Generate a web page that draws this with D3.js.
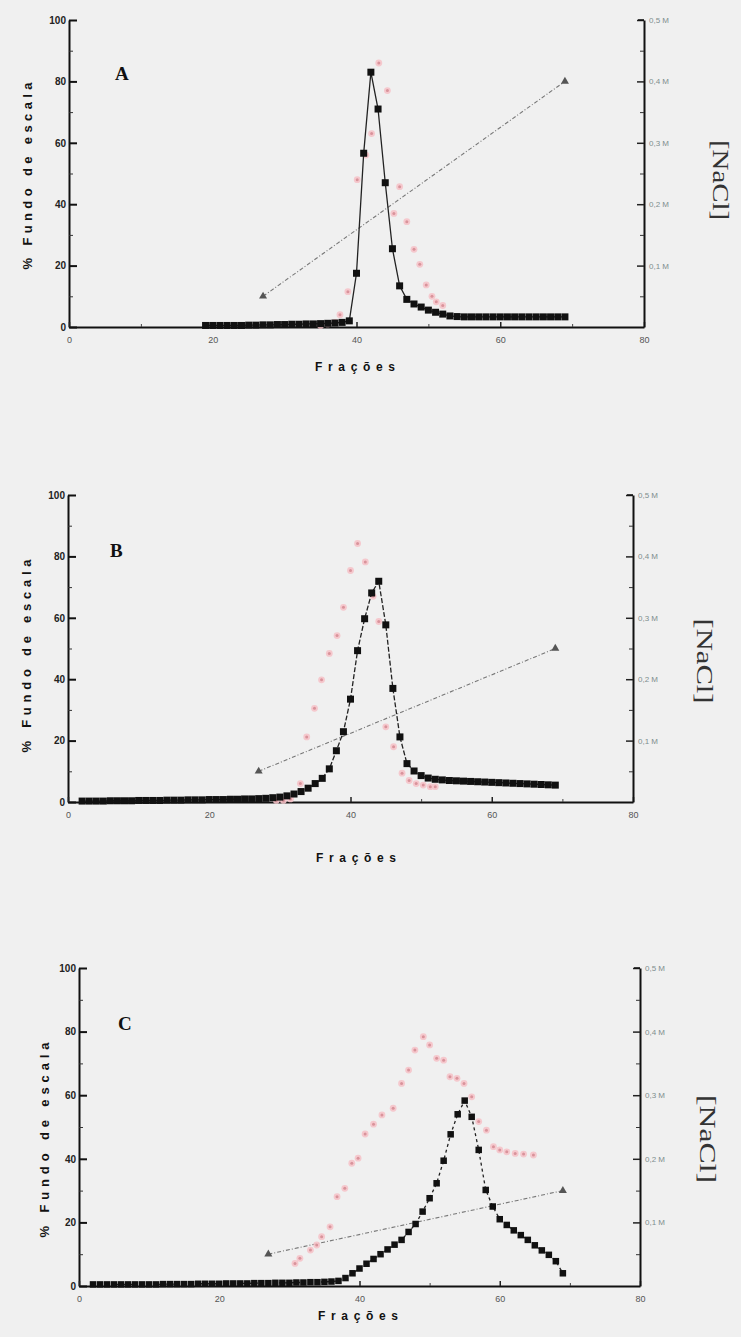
<!DOCTYPE html>
<html><head><meta charset="utf-8">
<script src="https://cdn.jsdelivr.net/npm/d3@7"></script>
<style>html,body{margin:0;padding:0;background:#f0f0f0;} svg{display:block}</style>
</head><body><svg id="c" width="741" height="1337"></svg>
<script>
// ---------- shared axis data ----------
const xTicks = [0, 20, 40, 60, 80];
const xMinorTicks = [10, 30, 50, 70];
const yTicks = [0, 20, 40, 60, 80, 100];
const yMinorTicks = [10, 30, 50, 70, 90];
const naclTicks = [0.1, 0.2, 0.3, 0.4, 0.5];
const naclMinorTicks = [0.05, 0.15, 0.25, 0.35, 0.45];
const naclTickLabels = ["0,1 M", "0,2 M", "0,3 M", "0,4 M", "0,5 M"];
const yAxisTitle = "% Fundo de escala";
const xAxisTitle = "Frações";
const naclTitle = "[NaCl]";
const panelLetters = ["A", "B", "C"];

// ---------- Panel A ----------
const fracA = [19,20,21,22,23,24,25,26,27,28,29,30,31,32,33,34,35,36,37,38,39,40,41,42,43,44,45,46,47,48,49,50,51,52,53,54,55,56,57,58,59,60,61,62,63,64,65,66,67,68,69];
const absA  = [0.5,0.5,0.5,0.5,0.5,0.5,0.6,0.6,0.7,0.7,0.8,0.8,0.9,0.9,1,1,1.1,1.2,1.3,1.5,2,17.5,56.6,83,71,47,25.5,13.4,9,7.5,6.5,5.5,4.8,4.2,3.6,3.4,3.3,3.3,3.3,3.3,3.3,3.3,3.3,3.3,3.3,3.3,3.3,3.3,3.3,3.3,3.3];
const pinkFracA = [35,36,37,37.7,38.8,40.1,41.3,42.1,43.1,44.3,45.2,46,47,48,48.8,49.7,50.5,51.1,52];
const pinkA     = [0.5,1,1.5,4,11.5,48,56,63,86,77,37,45.7,34.3,25.3,20.4,13.7,10,8.2,7];
const naclFracA = [27, 69];
const naclA     = [0.05, 0.40];

// ---------- Panel B ----------
const fracB = [2,3,4,5,6,7,8,9,10,11,12,13,14,15,16,17,18,19,20,21,22,23,24,25,26,27,28,29,30,31,32,33,34,35,36,37,38,39,40,41,42,43,44,45,46,47,48,49,50,51,52,53,54,55,56,57,58,59,60,61,62,63,64,65,66,67,68,69];
const absB  = [0.3,0.3,0.3,0.3,0.4,0.4,0.4,0.4,0.5,0.5,0.5,0.5,0.6,0.6,0.6,0.7,0.7,0.7,0.8,0.8,0.8,0.9,0.9,1,1,1.1,1.2,1.4,1.6,2,2.6,3.4,4.5,6,7.7,10.8,16.7,22.9,33.5,49.3,59.7,68.1,71.9,57.7,37,21.2,12.5,10.1,8.6,7.8,7.4,7.2,7,6.9,6.8,6.7,6.6,6.5,6.4,6.3,6.2,6.1,6,5.9,5.8,5.7,5.6,5.5];
const pinkFracB = [29.5,30.5,31.5,32.9,33.8,34.9,35.9,37,38.1,39,40,41,42.1,43.2,44,45,46.1,47.3,48.3,49.3,50.3,51.3,52];
const pinkB     = [0.5,0.5,1,6,21.2,30.5,39.8,48.4,54.2,63.4,75.4,84.2,78.2,67,58.8,24.5,18,9.4,7,6,5.5,5,5];
const naclFracB = [27, 69];
const naclB     = [0.05, 0.25];

// ---------- Panel C ----------
const fracC = [2,3,4,5,6,7,8,9,10,11,12,13,14,15,16,17,18,19,20,21,22,23,24,25,26,27,28,29,30,31,32,33,34,35,36,37,38,39,40,41,42,43,44,45,46,47,48,49,50,51,52,53,54,55,56,57,58,59,60,61,62,63,64,65,66,67,68,69];
const absC  = [0.5,0.5,0.5,0.5,0.5,0.5,0.5,0.5,0.5,0.5,0.6,0.6,0.6,0.6,0.6,0.7,0.7,0.7,0.7,0.8,0.8,0.8,0.8,0.9,0.9,0.9,1,1,1,1.1,1.1,1.2,1.2,1.3,1.4,1.6,2.5,4,5.5,7,8.5,10,11.5,13,14.5,17,19.5,23.4,27.6,32.3,39.4,47.7,54,58.3,53.2,42.8,30.2,25,21,19.2,17.5,16,14.5,12.8,11.2,9.8,7.8,4];
const pinkFracC = [30.8,31.5,33,33.9,34.6,35.8,36.8,37.9,38.9,39.8,40.8,42,43.2,44.8,46,47,47.9,49.1,50,51,52,52.9,53.9,54.9,56,57,58.1,59.1,60,61,62.2,63.4,64.8];
const pinkC     = [7.1,8.7,11.3,12.9,15.5,18.6,28.1,30.7,38.6,40.2,47.8,50.9,53.8,55.9,63.7,67.9,74.2,78.4,75.8,71.6,71,65.8,65.3,63.7,59.5,51.7,49,43.8,42.8,42.2,41.7,41.5,41.2];
const naclFracC = [27, 69];
const naclC     = [0.05, 0.15];

// ---------- layout ----------
const panels = [
  {letter: panelLetters[0], fr: fracA, ab: absA, pf: pinkFracA, pv: pinkA, nf: naclFracA, nv: naclA,
   g: {x0: 69, x1: 644, y0: 327, y1: 20}, dash: null, sq: 7,
   letterPos: [115, 80], yT: [32, 176, 187], xT: [355, 371, 80], nT: [713, 180, 80]},
  {letter: panelLetters[1], fr: fracB, ab: absB, pf: pinkFracB, pv: pinkB, nf: naclFracB, nv: naclB,
   g: {x0: 68, x1: 633, y0: 802, y1: 495}, dash: "5,2", sq: 7,
   letterPos: [110, 557], yT: [31, 656, 193], xT: [356, 862, 80], nT: [697, 661, 85]},
  {letter: panelLetters[2], fr: fracC, ab: absC, pf: pinkFracC, pv: pinkC, nf: naclFracC, nv: naclC,
   g: {x0: 79, x1: 640, y0: 1286, y1: 968}, dash: "3,3", sq: 6.5,
   letterPos: [118, 1030], yT: [49, 1140, 195], xT: [358, 1320, 80], nT: [700, 1139, 88]}
];

const svg = d3.select("#c");
svg.append("rect").attr("width", 741).attr("height", 1337).attr("fill", "#f0f0f0");

panels.forEach(P => {
  const G = P.g;
  const x = d3.scaleLinear().domain([0, 80]).range([G.x0, G.x1]);
  const y = d3.scaleLinear().domain([0, 100]).range([G.y0, G.y1]);
  const yr = d3.scaleLinear().domain([0, 0.5]).range([G.y0, G.y1]);
  const g = svg.append("g");

  // left axis
  const la = g.append("g").attr("transform", `translate(${G.x0},0)`)
    .call(d3.axisLeft(y).tickValues(yTicks).tickSizeInner(-8).tickSizeOuter(0).tickPadding(3).tickFormat(d3.format("d")));
  la.select(".domain").attr("stroke", "#111").attr("stroke-width", 2);
  la.selectAll(".tick line").attr("stroke", "#111").attr("stroke-width", 2);
  la.selectAll("text").attr("font-family", "Arial, Liberation Sans, sans-serif").attr("font-weight", "bold").attr("font-size", 10).attr("fill", "#222");
  g.append("g").attr("transform", `translate(${G.x0},0)`)
    .call(d3.axisLeft(y).tickValues(yMinorTicks).tickSizeInner(-4).tickSizeOuter(0).tickFormat(""))
    .call(s => { s.select(".domain").remove(); s.selectAll("line").attr("stroke", "#333"); });

  // bottom axis
  const ba = g.append("g").attr("transform", `translate(0,${G.y0})`)
    .call(d3.axisBottom(x).tickValues(xTicks).tickSizeInner(-5).tickSizeOuter(0).tickPadding(10).tickFormat(d3.format("d")));
  ba.select(".domain").attr("stroke", "#111").attr("stroke-width", 2);
  ba.selectAll(".tick line").attr("stroke", "#222").attr("stroke-width", 1.5);
  ba.selectAll("text").attr("font-family", "Arial, Liberation Sans, sans-serif").attr("font-size", 9).attr("fill", "#555");
  g.append("g").attr("transform", `translate(0,${G.y0})`)
    .call(d3.axisBottom(x).tickValues(xMinorTicks).tickSizeInner(-3).tickSizeOuter(0).tickFormat(""))
    .call(s => { s.select(".domain").remove(); s.selectAll("line").attr("stroke", "#444"); });

  // right axis
  const ra = g.append("g").attr("transform", `translate(${G.x1},0)`)
    .call(d3.axisRight(yr).tickValues(naclTicks).tickSizeInner(-7).tickSizeOuter(0).tickPadding(5)
      .tickFormat((d, i) => naclTickLabels[i]));
  ra.select(".domain").attr("stroke", "#111").attr("stroke-width", 2);
  ra.selectAll(".tick line").attr("stroke", "#222").attr("stroke-width", 1.5);
  ra.selectAll("text").attr("font-family", "Arial, Liberation Sans, sans-serif").attr("font-size", 8).attr("fill", "#7e8e8e");
  g.append("g").attr("transform", `translate(${G.x1},0)`)
    .call(d3.axisRight(yr).tickValues(naclMinorTicks).tickSizeInner(-4).tickSizeOuter(0).tickFormat(""))
    .call(s => { s.select(".domain").remove(); s.selectAll("line").attr("stroke", "#333"); });
  // top tick on right axis
  g.append("line").attr("x1", G.x1 - 6).attr("x2", G.x1).attr("y1", yr(0.5)).attr("y2", yr(0.5)).attr("stroke", "#111").attr("stroke-width", 1.5);

  // titles
  g.append("text").attr("transform", `translate(${P.yT[0]},${P.yT[1]}) rotate(-90)`)
    .attr("text-anchor", "middle").attr("font-family", "Arial, Liberation Sans, sans-serif")
    .attr("font-weight", "bold").attr("font-size", 13).attr("fill", "#111")
    .attr("textLength", P.yT[2]).attr("lengthAdjust", "spacing").text(yAxisTitle);
  g.append("text").attr("x", P.xT[0]).attr("y", P.xT[1])
    .attr("text-anchor", "middle").attr("font-family", "Arial, Liberation Sans, sans-serif")
    .attr("font-weight", "bold").attr("font-size", 12).attr("fill", "#111")
    .attr("textLength", P.xT[2]).attr("lengthAdjust", "spacing").text(xAxisTitle);
  g.append("text").attr("transform", `translate(${P.nT[0]},${P.nT[1]}) rotate(90)`)
    .attr("text-anchor", "middle").attr("font-family", "Liberation Serif, Times New Roman, serif")
    .attr("font-size", 23).attr("fill", "#333")
    .attr("textLength", P.nT[2]).attr("lengthAdjust", "spacingAndGlyphs").text(naclTitle);
  g.append("text").attr("x", P.letterPos[0]).attr("y", P.letterPos[1])
    .attr("font-family", "Liberation Serif, Times New Roman, serif").attr("font-weight", "bold")
    .attr("font-size", 19).attr("fill", "#111").text(P.letter);

  // NaCl gradient line
  const nd = P.nf.map((f, i) => ({f, c: P.nv[i]}));
  g.append("path").datum(nd)
    .attr("d", d3.line().x(d => x(d.f)).y(d => yr(d.c)))
    .attr("fill", "none").attr("stroke", "#777").attr("stroke-width", 1.1).attr("stroke-dasharray", "4,2,1,2");
  g.selectAll(".tri").data(nd).join("path")
    .attr("transform", d => `translate(${x(d.f)},${yr(d.c)})`)
    .attr("d", d3.symbol(d3.symbolTriangle, 28)).attr("fill", "#555");

  // pink series
  const pd = P.pf.map((f, i) => ({f, v: P.pv[i]}));
  g.selectAll(".pk").data(pd).join("circle")
    .attr("cx", d => x(d.f)).attr("cy", d => y(d.v)).attr("r", 3.4)
    .attr("fill", "#f5c3c9").attr("opacity", 0.9);
  g.selectAll(".pk2").data(pd).join("circle")
    .attr("cx", d => x(d.f)).attr("cy", d => y(d.v)).attr("r", 1.5)
    .attr("fill", "#d9939b");

  // black series
  const bd = P.fr.map((f, i) => ({f, v: P.ab[i]}));
  const bl = g.append("path").datum(bd)
    .attr("d", d3.line().x(d => x(d.f)).y(d => y(d.v)))
    .attr("fill", "none").attr("stroke", "#222").attr("stroke-width", 1.3);
  if (P.dash) bl.attr("stroke-dasharray", P.dash);
  g.selectAll(".sq").data(bd).join("rect")
    .attr("x", d => x(d.f) - P.sq / 2).attr("y", d => y(d.v) - P.sq / 2)
    .attr("width", P.sq).attr("height", P.sq).attr("fill", "#111");
});
</script></body></html>
